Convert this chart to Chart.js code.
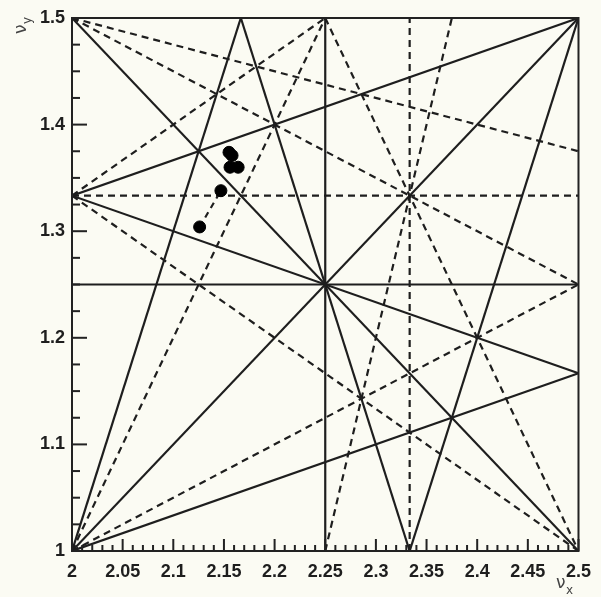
<!DOCTYPE html>
<html>
<head>
<meta charset="utf-8">
<script src="https://cdn.jsdelivr.net/npm/chart.js@4"></script>
<style>
  html, body { margin: 0; padding: 0; background: #fbfbf3; }
  canvas { display: block; }
</style>
</head>
<body>
<canvas id="tunes" width="601" height="597"></canvas>
<script>
// axis ticks
var xTicks = [2, 2.05, 2.1, 2.15, 2.2, 2.25, 2.3, 2.35, 2.4, 2.45, 2.5]
var xTickLabels = ['2', '2.05', '2.1', '2.15', '2.2', '2.25', '2.3', '2.35', '2.4', '2.45', '2.5']
var yTicks = [1, 1.1, 1.2, 1.3, 1.4, 1.5]
var yTickLabels = ['1', '1.1', '1.2', '1.3', '1.4', '1.5']
// small ticks between the labelled ones
var xMinorTicks = [2.01, 2.02, 2.03, 2.04, 2.06, 2.07, 2.08, 2.09, 2.11, 2.12, 2.13, 2.14,
  2.16, 2.17, 2.18, 2.19, 2.21, 2.22, 2.23, 2.24, 2.26, 2.27, 2.28, 2.29, 2.31, 2.32, 2.33, 2.34,
  2.36, 2.37, 2.38, 2.39, 2.41, 2.42, 2.43, 2.44, 2.46, 2.47, 2.48, 2.49]
var yMinorTicks = [1.025, 1.05, 1.075, 1.125, 1.15, 1.175, 1.225, 1.25, 1.275,
  1.325, 1.35, 1.375, 1.425, 1.45, 1.475]

// resonance lines, each one [qx1, qy1, qx2, qy2]
var solidLines = [
  [2, 4 / 3, 2.5, 1.5],
  [2, 4 / 3, 2.5, 7 / 6],
  [2, 1, 2.5, 7 / 6],
  [2, 1, 13 / 6, 1.5],
  [13 / 6, 1.5, 7 / 3, 1],
  [7 / 3, 1, 2.5, 1.5],
  [2, 1, 2.5, 1.5],
  [2, 1.5, 2.5, 1],
  [2.25, 1, 2.25, 1.5],
  [2, 1.25, 2.5, 1.25],
]
var dashedLines = [
  [7 / 3, 1, 7 / 3, 1.5],
  [2, 4 / 3, 2.5, 4 / 3],
  [2, 1.5, 2.5, 1.375],
  [2, 1.5, 2.5, 1.25],
  [2, 4 / 3, 2.25, 1.5],
  [2, 1, 2.25, 1.5],
  [2.25, 1.5, 2.5, 1],
  [2, 4 / 3, 2.5, 1],
  [2, 1, 2.5, 1.25],
  [2.25, 1, 2.375, 1.5],
]

// measured working points
var tuneX = [2.126, 2.147, 2.155, 2.158, 2.156, 2.164]
var tuneY = [1.304, 1.338, 1.374, 1.371, 1.360, 1.360]
// dashed link between the two lower points
var linkX = [2.126, 2.147]
var linkY = [1.304, 1.338]

var ink = '#1e1e1e'
var datasets = []

datasets.push({
  data: tuneX.map(function (x, i) { return { x: x, y: tuneY[i] } }),
  backgroundColor: '#000',
  borderColor: '#000',
  pointRadius: 6,
  order: 0,
})
datasets.push({
  data: linkX.map(function (x, i) { return { x: x, y: linkY[i] } }),
  showLine: true,
  pointRadius: 0,
  borderColor: ink,
  borderWidth: 2.2,
  borderDash: [6, 5],
  order: 1,
})
solidLines.forEach(function (s) {
  datasets.push({
    data: [{ x: s[0], y: s[1] }, { x: s[2], y: s[3] }],
    showLine: true,
    pointRadius: 0,
    borderColor: ink,
    borderWidth: 2.2,
    order: 2,
  })
})
dashedLines.forEach(function (s) {
  datasets.push({
    data: [{ x: s[0], y: s[1] }, { x: s[2], y: s[3] }],
    showLine: true,
    pointRadius: 0,
    borderColor: ink,
    borderWidth: 2.2,
    borderDash: [7, 5],
    order: 2,
  })
})

// frame, inward ticks and nu titles like the original plot
var frame = {
  id: 'frame',
  afterDraw: function (chart) {
    var c = chart.ctx, a = chart.chartArea
    var sx = chart.scales.x, sy = chart.scales.y
    c.save()
    c.fillStyle = '#222'
    xTicks.forEach(function (v) {
      c.fillRect(sx.getPixelForValue(v) - 1, a.bottom - 12, 2, 12)
    })
    xMinorTicks.forEach(function (v) {
      c.fillRect(sx.getPixelForValue(v) - 1, a.bottom - 6, 2, 6)
    })
    yTicks.forEach(function (v) {
      c.fillRect(a.left, sy.getPixelForValue(v) - 1, 15, 2)
    })
    yMinorTicks.forEach(function (v) {
      c.fillRect(a.left, sy.getPixelForValue(v) - 1, 8, 2)
    })
    c.strokeStyle = '#222'
    c.lineWidth = 2
    c.strokeRect(a.left, a.top, a.right - a.left, a.bottom - a.top)

    c.fillStyle = '#444'
    c.font = '17px "DejaVu Sans"'
    c.fillText('\u03bd', 556, 588)
    c.font = '12px "DejaVu Sans"'
    c.fillText('x', 566, 594)

    c.translate(26, 34)
    c.rotate(-Math.PI / 2)
    c.font = '17px "DejaVu Sans"'
    c.fillText('\u03bd', 0, 0)
    c.font = '12px "DejaVu Sans"'
    c.fillText('y', 10, 5)
    c.restore()
  },
}

var chart = new Chart(document.getElementById('tunes').getContext('2d'), {
  type: 'scatter',
  data: { datasets: datasets },
  options: {
    responsive: false,
    animation: false,
    layout: { padding: { top: 18, right: 21, left: 0, bottom: 0 } },
    plugins: { legend: { display: false }, tooltip: { enabled: false } },
    scales: {
      x: {
        min: 2,
        max: 2.5,
        afterBuildTicks: function (s) { s.ticks = xTicks.map(function (v) { return { value: v } }) },
        afterFit: function (s) { s.height = 46 },
        grid: { display: false, drawTicks: false },
        border: { display: false },
        ticks: {
          padding: 10,
          maxRotation: 0,
          autoSkip: false,
          color: '#1e1e1e',
          font: { family: '"Liberation Sans", Arial', size: 18, weight: 'bold' },
          callback: function (v) { return xTickLabels[xTicks.indexOf(v)] },
        },
      },
      y: {
        min: 1,
        max: 1.5,
        afterBuildTicks: function (s) { s.ticks = yTicks.map(function (v) { return { value: v } }) },
        afterFit: function (s) { s.width = 72 },
        grid: { display: false, drawTicks: false },
        border: { display: false },
        ticks: {
          padding: 7,
          autoSkip: false,
          color: '#1e1e1e',
          font: { family: '"Liberation Sans", Arial', size: 18, weight: 'bold' },
          callback: function (v) { return yTickLabels[yTicks.indexOf(v)] },
        },
      },
    },
  },
  plugins: [frame],
})
</script>
</body>
</html>
